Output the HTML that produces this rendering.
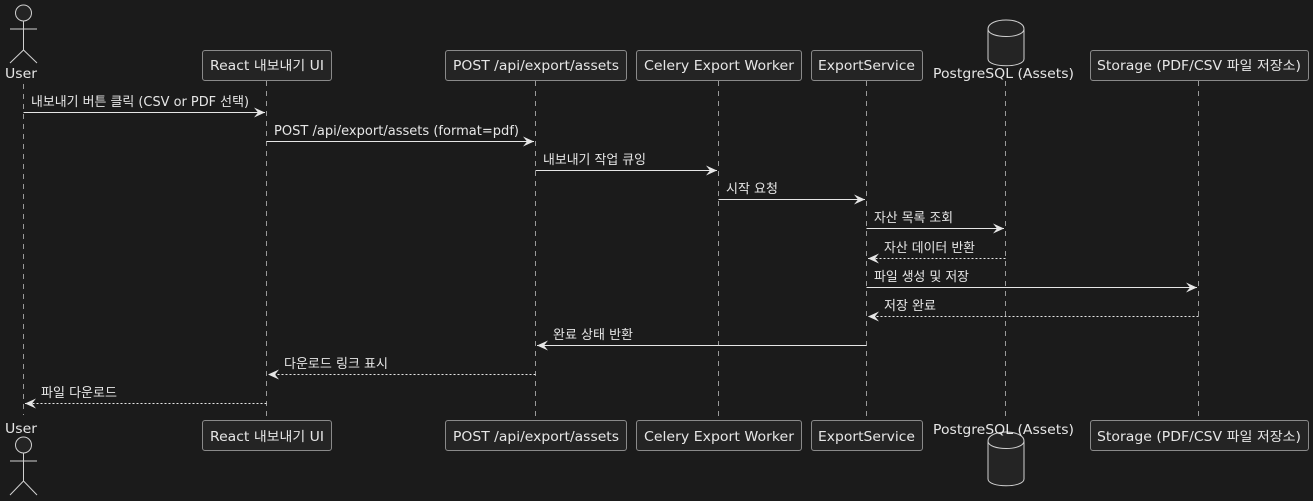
<!DOCTYPE html>
<html><head><meta charset="utf-8"><style>
html,body{margin:0;padding:0;background:#1b1b1b;}
svg{display:block;}
text{font-family:"DejaVu Sans","Noto Sans CJK KR",sans-serif;font-size:13px;fill:#e6e6e6;}
</style></head><body>
<svg width="1313" height="501" viewBox="0 0 1313 501" xmlns="http://www.w3.org/2000/svg">
<rect width="1313" height="501" fill="#1b1b1b"/>
<defs>
<marker id="a" markerWidth="12" markerHeight="10" refX="11" refY="5" orient="auto" markerUnits="userSpaceOnUse">
<path d="M0,0 L11,5 L0,10 L4,5 Z" fill="#e6e6e6"/></marker>
</defs>
<g stroke="#999" stroke-width="1" stroke-dasharray="5,5">
<line x1="23.5" y1="84" x2="23.5" y2="415"/>
<line x1="266.5" y1="81" x2="266.5" y2="420"/>
<line x1="535.5" y1="81" x2="535.5" y2="420"/>
<line x1="718.5" y1="81" x2="718.5" y2="420"/>
<line x1="866.5" y1="81" x2="866.5" y2="420"/>
<line x1="1005.5" y1="81" x2="1005.5" y2="420"/>
<line x1="1198.5" y1="81" x2="1198.5" y2="420"/>
</g>
<g fill="#242424" stroke="#8a8a8a" stroke-width="1">
<rect x="202.5" y="50.5" width="129" height="30" rx="2.5"/>
<rect x="445.5" y="50.5" width="181" height="30" rx="2.5"/>
<rect x="636.5" y="50.5" width="165" height="30" rx="2.5"/>
<rect x="811.5" y="50.5" width="111" height="30" rx="2.5"/>
<rect x="1090.5" y="50.5" width="218" height="30" rx="2.5"/>
<rect x="202.5" y="420.5" width="129" height="30" rx="2.5"/>
<rect x="445.5" y="420.5" width="181" height="30" rx="2.5"/>
<rect x="636.5" y="420.5" width="165" height="30" rx="2.5"/>
<rect x="811.5" y="420.5" width="111" height="30" rx="2.5"/>
<rect x="1090.5" y="420.5" width="218" height="30" rx="2.5"/>
</g>
<g stroke="#d0d0d0" fill="#242424" stroke-width="1">
<circle cx="23.5" cy="13" r="8"/>
<path d="M23.5,21 V50 M10,29 H37 M10,63 L23.5,50 L37,63" fill="none"/>
<circle cx="23.5" cy="445" r="8"/>
<path d="M23.5,453 V481 M10,461 H37 M10,495 L23.5,481 L37,495" fill="none"/>
<path d="M988,29 C988,17 1024,17 1024,29 V59 C1024,68 988,68 988,59 Z"/>
<path d="M988,29 C988,39 1024,39 1024,29" fill="none"/>
<path d="M988,441 C988,429 1024,429 1024,441 V479 C1024,488 988,488 988,479 Z"/>
<path d="M988,441 C988,451 1024,451 1024,441" fill="none"/>
</g>
<g>
<text x="5" y="78" textLength="32" lengthAdjust="spacingAndGlyphs">User</text>
<text x="210" y="70" textLength="114" lengthAdjust="spacingAndGlyphs">React 내보내기 UI</text>
<text x="453" y="70" textLength="166" lengthAdjust="spacingAndGlyphs">POST /api/export/assets</text>
<text x="644" y="70" textLength="150" lengthAdjust="spacingAndGlyphs">Celery Export Worker</text>
<text x="818" y="70" textLength="97" lengthAdjust="spacingAndGlyphs">ExportService</text>
<text x="933" y="78" textLength="141" lengthAdjust="spacingAndGlyphs">PostgreSQL (Assets)</text>
<text x="1097" y="70" textLength="204" lengthAdjust="spacingAndGlyphs">Storage (PDF/CSV 파일 저장소)</text>
<text x="5" y="433" textLength="32" lengthAdjust="spacingAndGlyphs">User</text>
<text x="210" y="441" textLength="114" lengthAdjust="spacingAndGlyphs">React 내보내기 UI</text>
<text x="453" y="441" textLength="166" lengthAdjust="spacingAndGlyphs">POST /api/export/assets</text>
<text x="644" y="441" textLength="150" lengthAdjust="spacingAndGlyphs">Celery Export Worker</text>
<text x="818" y="441" textLength="97" lengthAdjust="spacingAndGlyphs">ExportService</text>
<text x="933" y="434" textLength="141" lengthAdjust="spacingAndGlyphs">PostgreSQL (Assets)</text>
<text x="1097" y="441" textLength="204" lengthAdjust="spacingAndGlyphs">Storage (PDF/CSV 파일 저장소)</text>
</g>
<g stroke="#e6e6e6" stroke-width="1" fill="none">
<line x1="23.5" y1="112.5" x2="265" y2="112.5" marker-end="url(#a)"/>
<line x1="266.5" y1="141.5" x2="534" y2="141.5" marker-end="url(#a)"/>
<line x1="535.5" y1="170.5" x2="717" y2="170.5" marker-end="url(#a)"/>
<line x1="718.5" y1="199.5" x2="865" y2="199.5" marker-end="url(#a)"/>
<line x1="866.5" y1="228.5" x2="1004" y2="228.5" marker-end="url(#a)"/>
<line x1="1005.5" y1="258.5" x2="868" y2="258.5" stroke-dasharray="2,2" marker-end="url(#a)"/>
<line x1="866.5" y1="287.5" x2="1197" y2="287.5" marker-end="url(#a)"/>
<line x1="1198.5" y1="316.5" x2="868" y2="316.5" stroke-dasharray="2,2" marker-end="url(#a)"/>
<line x1="866.5" y1="345.5" x2="537" y2="345.5" marker-end="url(#a)"/>
<line x1="535.5" y1="374.5" x2="268" y2="374.5" stroke-dasharray="2,2" marker-end="url(#a)"/>
<line x1="266.5" y1="403.5" x2="25" y2="403.5" stroke-dasharray="2,2" marker-end="url(#a)"/>
</g>
<g>
<text x="31" y="106" textLength="218" lengthAdjust="spacingAndGlyphs">내보내기 버튼 클릭 (CSV or PDF 선택)</text>
<text x="274" y="135" textLength="245" lengthAdjust="spacingAndGlyphs">POST /api/export/assets (format=pdf)</text>
<text x="543" y="164" textLength="103" lengthAdjust="spacingAndGlyphs">내보내기 작업 큐잉</text>
<text x="726" y="193" textLength="52" lengthAdjust="spacingAndGlyphs">시작 요청</text>
<text x="874" y="222" textLength="79" lengthAdjust="spacingAndGlyphs">자산 목록 조회</text>
<text x="884" y="252" textLength="91" lengthAdjust="spacingAndGlyphs">자산 데이터 반환</text>
<text x="874" y="281" textLength="95" lengthAdjust="spacingAndGlyphs">파일 생성 및 저장</text>
<text x="884" y="310" textLength="52" lengthAdjust="spacingAndGlyphs">저장 완료</text>
<text x="553" y="339" textLength="80" lengthAdjust="spacingAndGlyphs">완료 상태 반환</text>
<text x="284" y="368" textLength="104" lengthAdjust="spacingAndGlyphs">다운로드 링크 표시</text>
<text x="41" y="397" textLength="76" lengthAdjust="spacingAndGlyphs">파일 다운로드</text>
</g>
</svg>
</body></html>
